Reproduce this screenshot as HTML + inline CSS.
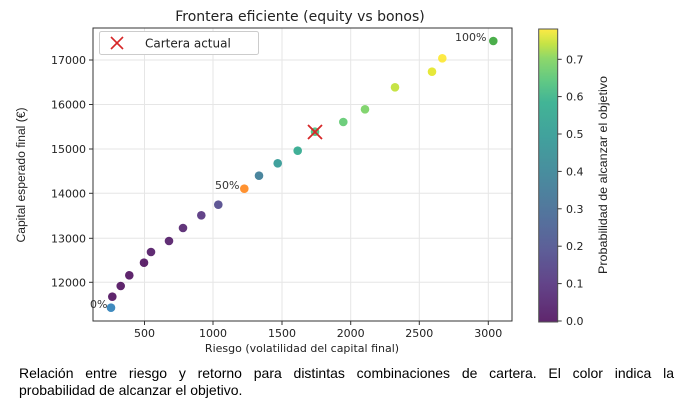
<!DOCTYPE html>
<html><head><meta charset="utf-8"><style>
body{margin:0;background:#fff;width:687px;height:405px;overflow:hidden;font-family:"DejaVu Sans","Liberation Sans",sans-serif}
.cap{position:absolute;left:19px;top:365px;width:655px;font-family:"Liberation Sans",sans-serif;font-size:14px;line-height:17px;color:#000}
.l1{text-align:justify;text-align-last:justify;white-space:nowrap}
</style></head><body>
<svg width="687" height="405" style="position:absolute;left:0;top:0" font-family="DejaVu Sans, Liberation Sans, sans-serif">
<defs><linearGradient id="vir" x1="0" y1="1" x2="0" y2="0">
<stop offset="0" stop-color="#440154"/><stop offset="0.13" stop-color="#482475"/><stop offset="0.25" stop-color="#414487"/><stop offset="0.38" stop-color="#355f8d"/><stop offset="0.5" stop-color="#2a788e"/><stop offset="0.63" stop-color="#21918c"/><stop offset="0.75" stop-color="#22a884"/><stop offset="0.82" stop-color="#44bf70"/><stop offset="0.9" stop-color="#7ad151"/><stop offset="0.95" stop-color="#bddf26"/><stop offset="1" stop-color="#fde725"/></linearGradient></defs>
<text x="300" y="21" font-size="14" text-anchor="middle" fill="#222">Frontera eficiente (equity vs bonos)</text>
<g stroke="#e6e6e6" stroke-width="1">
<line x1="144.5" y1="28" x2="144.5" y2="321"/><line x1="213" y1="28" x2="213" y2="321"/><line x1="282" y1="28" x2="282" y2="321"/><line x1="350.7" y1="28" x2="350.7" y2="321"/><line x1="419.3" y1="28" x2="419.3" y2="321"/><line x1="488.3" y1="28" x2="488.3" y2="321"/>
<line x1="93" y1="282.3" x2="512" y2="282.3"/><line x1="93" y1="238.3" x2="512" y2="238.3"/><line x1="93" y1="193.3" x2="512" y2="193.3"/><line x1="93" y1="149" x2="512" y2="149"/><line x1="93" y1="104.5" x2="512" y2="104.5"/><line x1="93" y1="60" x2="512" y2="60"/>
</g>
<g opacity="0.85">
<circle cx="111" cy="307.7" r="4.3" fill="#1f77b4"/>
<circle cx="112.3" cy="296.7" r="4.3" fill="#440154"/>
<circle cx="120.7" cy="286" r="4.3" fill="#440154"/>
<circle cx="129.3" cy="275.3" r="4.3" fill="#440154"/>
<circle cx="144" cy="262.7" r="4.3" fill="#440154"/>
<circle cx="151" cy="252" r="4.3" fill="#45085b"/>
<circle cx="169" cy="241" r="4.3" fill="#460b5e"/>
<circle cx="183" cy="228" r="4.3" fill="#471365"/>
<circle cx="201.3" cy="215.3" r="4.3" fill="#482475"/>
<circle cx="218.3" cy="204.7" r="4.3" fill="#443a83"/>
<circle cx="244.3" cy="188.7" r="4.3" fill="#ff7f0e"/>
<circle cx="259" cy="175.7" r="4.3" fill="#2c728e"/>
<circle cx="277.7" cy="163.3" r="4.3" fill="#21918c"/>
<circle cx="297.7" cy="150.7" r="4.3" fill="#20a386"/>
<circle cx="315" cy="131.7" r="4.3" fill="#3bbb75"/>
<circle cx="343.3" cy="122" r="4.3" fill="#55c667"/>
<circle cx="365" cy="109.3" r="4.3" fill="#6ece58"/>
<circle cx="395" cy="87.3" r="4.3" fill="#bddf26"/>
<circle cx="432" cy="71.7" r="4.3" fill="#e2e418"/>
<circle cx="442.3" cy="58.3" r="4.3" fill="#fde725"/>
<circle cx="493.3" cy="41" r="4.3" fill="#2ca02c"/>
</g>
<g stroke="#d62728" stroke-width="1.8"><line x1="308" y1="125" x2="322" y2="139"/><line x1="308" y1="139" x2="322" y2="125"/></g>
<g font-size="11" fill="#333"><text x="90" y="308">0%</text><text x="215" y="189">50%</text><text x="455" y="41">100%</text></g>
<rect x="99.5" y="31.5" width="159" height="23" rx="2" fill="#fff" stroke="#ccc"/>
<g stroke="#d62728" stroke-width="1.6"><line x1="111" y1="37" x2="123" y2="49"/><line x1="111" y1="49" x2="123" y2="37"/></g>
<text x="145" y="47.5" font-size="12" fill="#222">Cartera actual</text>
<rect x="93" y="28" width="419" height="293" fill="none" stroke="#333" stroke-width="1"/>
<g stroke="#333"><line x1="144.5" y1="321" x2="144.5" y2="325"/><line x1="213" y1="321" x2="213" y2="325"/><line x1="282" y1="321" x2="282" y2="325"/><line x1="350.7" y1="321" x2="350.7" y2="325"/><line x1="419.3" y1="321" x2="419.3" y2="325"/><line x1="488.3" y1="321" x2="488.3" y2="325"/>
<line x1="89" y1="282.3" x2="93" y2="282.3"/><line x1="89" y1="238.3" x2="93" y2="238.3"/><line x1="89" y1="193.3" x2="93" y2="193.3"/><line x1="89" y1="149" x2="93" y2="149"/><line x1="89" y1="104.5" x2="93" y2="104.5"/><line x1="89" y1="60" x2="93" y2="60"/></g>
<g font-size="11" fill="#222" text-anchor="middle"><text x="144.5" y="337">500</text><text x="213" y="337">1000</text><text x="282" y="337">1500</text><text x="350.7" y="337">2000</text><text x="419.3" y="337">2500</text><text x="488.3" y="337">3000</text></g>
<g font-size="11" fill="#222" text-anchor="end"><text x="86" y="286.3">12000</text><text x="86" y="242.3">13000</text><text x="86" y="197.3">14000</text><text x="86" y="153">15000</text><text x="86" y="108.5">16000</text><text x="86" y="64">17000</text></g>
<text x="302" y="352" font-size="11" fill="#222" text-anchor="middle">Riesgo (volatilidad del capital final)</text>
<text transform="translate(25,175) rotate(-90)" font-size="11.5" fill="#222" text-anchor="middle" font-family="Liberation Sans Narrow, Liberation Sans, sans-serif" textLength="135" lengthAdjust="spacingAndGlyphs">Capital esperado final (€)</text>
<rect x="538.7" y="29" width="19" height="293" fill="url(#vir)" opacity="0.85" stroke="#333" stroke-width="1"/>
<g stroke="#333"><line x1="557.7" y1="321" x2="561.7" y2="321"/><line x1="557.7" y1="283.6" x2="561.7" y2="283.6"/><line x1="557.7" y1="246.2" x2="561.7" y2="246.2"/><line x1="557.7" y1="208.8" x2="561.7" y2="208.8"/><line x1="557.7" y1="171.4" x2="561.7" y2="171.4"/><line x1="557.7" y1="134" x2="561.7" y2="134"/><line x1="557.7" y1="96.6" x2="561.7" y2="96.6"/><line x1="557.7" y1="59.3" x2="561.7" y2="59.3"/></g>
<g font-size="11" fill="#222"><text x="566" y="325">0.0</text><text x="566" y="287.6">0.1</text><text x="566" y="250.2">0.2</text><text x="566" y="212.8">0.3</text><text x="566" y="175.4">0.4</text><text x="566" y="138">0.5</text><text x="566" y="100.6">0.6</text><text x="566" y="63.3">0.7</text></g>
<text transform="translate(607,175) rotate(-90)" font-size="12" fill="#222" text-anchor="middle" font-family="Liberation Sans Narrow, Liberation Sans, sans-serif" textLength="198" lengthAdjust="spacingAndGlyphs">Probabilidad de alcanzar el objetivo</text>
</svg>
<div class="cap"><div class="l1">Relación entre riesgo y retorno para distintas combinaciones de cartera. El color indica la</div><div>probabilidad de alcanzar el objetivo.</div></div>
</body></html>
